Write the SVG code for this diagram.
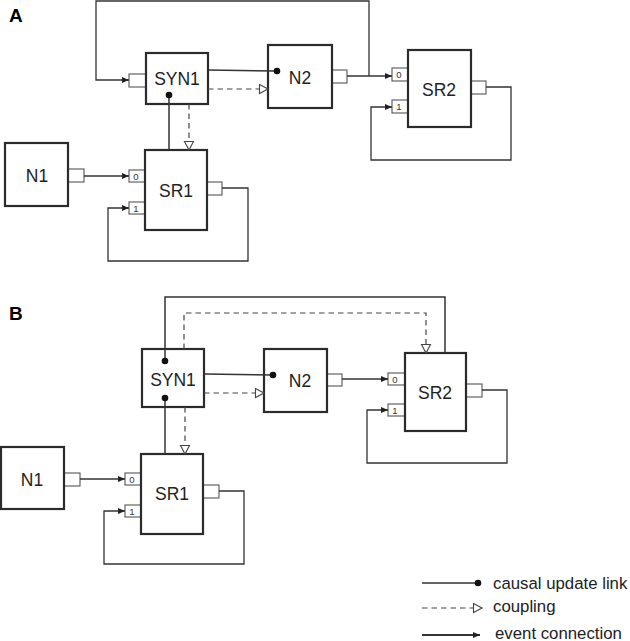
<svg xmlns="http://www.w3.org/2000/svg" width="630" height="641" viewBox="0 0 630 641">
<style>
.box{fill:#fff;stroke:#2b2b2b;stroke-width:2.2}
.port{fill:#fff;stroke:#555;stroke-width:1.1}
.lbl{font-family:"Liberation Sans",Arial,sans-serif;font-size:17.5px;fill:#222;text-anchor:middle}
.plbl{font-family:"Liberation Sans",Arial,sans-serif;font-size:9.5px;fill:#333;text-anchor:middle}
.panel{font-family:"Liberation Sans",Arial,sans-serif;font-size:19px;font-weight:bold;fill:#000}
.leg{font-family:"Liberation Sans",Arial,sans-serif;font-size:16.8px;fill:#222}
.ev{fill:none;stroke:#333;stroke-width:1.3;marker-end:url(#arr)}
.ca{fill:none;stroke:#333;stroke-width:1.5;marker-end:url(#dot)}
.cp{fill:none;stroke:#444;stroke-width:1.2;stroke-dasharray:5.5,4;marker-end:url(#tri)}
</style>
<defs>
<marker id="arr" markerUnits="userSpaceOnUse" markerWidth="8" markerHeight="8" refX="7" refY="3.5" orient="auto"><path d="M0,0.5 L7,3.5 L0,6.5 z" fill="#222"/></marker>
<marker id="dot" markerUnits="userSpaceOnUse" markerWidth="8" markerHeight="8" refX="4" refY="4" orient="auto"><circle cx="4" cy="4" r="3.3" fill="#111"/></marker>
<marker id="tri" markerUnits="userSpaceOnUse" markerWidth="12" markerHeight="12" refX="10" refY="5.5" orient="auto"><path d="M1.5,1 L10,5.5 L1.5,10 z" fill="#fff" stroke="#444" stroke-width="1.1"/></marker>
</defs>

<text class="panel" x="9" y="22">A</text>
<text class="panel" x="9" y="320">B</text>

<!-- ============ Panel A nodes ============ -->
<g id="A-SYN1">
<rect class="port" x="129" y="74" width="17" height="13"/>
<rect class="box" x="146" y="53" width="62" height="51"/>
<text class="lbl" x="177" y="85">SYN1</text>
</g>
<g id="A-N2">
<rect class="port" x="332" y="70" width="15" height="13"/>
<rect class="box" x="268" y="45" width="64" height="63"/>
<text class="lbl" x="300" y="84">N2</text>
</g>
<g id="A-SR2">
<rect class="port" x="392" y="68" width="16" height="13"/>
<text class="plbl" x="399" y="78">0</text>
<rect class="port" x="392" y="100" width="16" height="13"/>
<text class="plbl" x="399" y="110">1</text>
<rect class="port" x="471" y="81" width="15" height="13"/>
<rect class="box" x="408" y="50" width="63" height="77"/>
<text class="lbl" x="439" y="96">SR2</text>
</g>
<g id="A-SR1">
<rect class="port" x="129" y="170" width="16" height="12"/>
<text class="plbl" x="136" y="179.5">0</text>
<rect class="port" x="129" y="202" width="16" height="12"/>
<text class="plbl" x="136" y="211.5">1</text>
<rect class="port" x="207" y="182" width="15" height="13"/>
<rect class="box" x="145" y="150" width="62" height="80"/>
<text class="lbl" x="176" y="197">SR1</text>
</g>
<g id="A-N1">
<rect class="port" x="68" y="169" width="16" height="13"/>
<rect class="box" x="5" y="143" width="63" height="63"/>
<text class="lbl" x="37" y="182">N1</text>
</g>

<!-- ============ Panel B nodes ============ -->
<g id="B-SYN1">
<rect class="box" x="142" y="349" width="62" height="58"/>
<text class="lbl" x="173" y="386">SYN1</text>
</g>
<g id="B-N2">
<rect class="port" x="327" y="374" width="15" height="12"/>
<rect class="box" x="264" y="349" width="63" height="63"/>
<text class="lbl" x="300" y="387">N2</text>
</g>
<g id="B-SR2">
<rect class="port" x="388" y="373" width="17" height="12"/>
<text class="plbl" x="395" y="382.5">0</text>
<rect class="port" x="388" y="404" width="17" height="12"/>
<text class="plbl" x="395" y="413.5">1</text>
<rect class="port" x="466" y="384" width="16" height="13"/>
<rect class="box" x="405" y="353" width="61" height="78"/>
<text class="lbl" x="435" y="399">SR2</text>
</g>
<g id="B-SR1">
<rect class="port" x="125" y="473" width="16" height="12"/>
<text class="plbl" x="132" y="482.5">0</text>
<rect class="port" x="125" y="505" width="16" height="12"/>
<text class="plbl" x="132" y="514.5">1</text>
<rect class="port" x="203" y="485" width="16" height="13"/>
<rect class="box" x="141" y="454" width="62" height="80"/>
<text class="lbl" x="172" y="500">SR1</text>
</g>
<g id="B-N1">
<rect class="port" x="64" y="473" width="16" height="13"/>
<rect class="box" x="1" y="447" width="63" height="62"/>
<text class="lbl" x="32" y="486">N1</text>
</g>

<!-- ============ Connectors ============ -->
<g id="connectors">
<!-- Panel A -->
<path class="ev" d="M369,76 V1 H96 V80 H129"/>
<path class="ev" d="M347,76 H392"/>
<path class="ca" d="M208,70 L277,71"/>
<path class="cp" d="M208,89 H268"/>
<path class="ca" d="M169,150 V95"/>
<path class="cp" d="M189,104 V150"/>
<path class="ev" d="M84,176 H129"/>
<path class="ev" d="M222,188 H248 V261 H108 V208 H129"/>
<path class="ev" d="M486,87 H511 V160 H371 V107 H392"/>
<!-- Panel B -->
<path class="ca" d="M445,353 V297 H165 V361"/>
<path class="cp" d="M184,349 V313 H426 V353"/>
<path class="ca" d="M204,374 L273,375"/>
<path class="cp" d="M204,393 H264"/>
<path class="ca" d="M165,454 V398"/>
<path class="cp" d="M185,407 V454"/>
<path class="ev" d="M342,379 H388"/>
<path class="ev" d="M80,479 H125"/>
<path class="ev" d="M219,491 H244 V564 H104 V511 H125"/>
<path class="ev" d="M482,390 H507 V463 H367 V410 H388"/>
</g>

<!-- ============ Legend ============ -->
<g id="legend">
<path class="ca" d="M422,583 H478"/>
<text class="leg" x="493" y="589">causal update link</text>
<path class="cp" d="M422,608 H482"/>
<text class="leg" x="493" y="612">coupling</text>
<path class="ev" d="M422,635 H480" style="stroke-width:1.8"/>
<text class="leg" x="495" y="638.5">event connection</text>
</g>
</svg>
